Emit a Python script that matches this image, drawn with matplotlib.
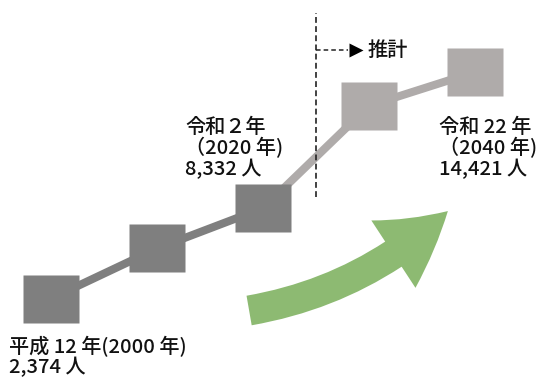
import numpy as np
import matplotlib.pyplot as plt
from matplotlib.patches import FancyArrowPatch
from matplotlib.path import Path

plt.rcParams['font.family'] = ['Noto Sans CJK JP', 'DejaVu Sans']

# 年次と人数（2010年・2030年は目盛り読み取りの推定値）
years = [2000, 2010, 2020, 2030, 2040]
people = [2374, 6070, 8332, 13050, 14421]

# ラベルを付ける点と年号
label_idx = [0, 2, 4]
era_text = ['平成 12 年(2000 年)', '令和２年\n（2020 年)', '令和 22 年\n（2040 年)']
label_off = [(-42, -37), (-78, 90), (-36, -46)]

proj_start = 2025  # ここから右が推計

dark = '#7f7f7f'
light = '#afabaa'
green = '#8dba72'

fig = plt.figure(figsize=(5.38, 3.78), dpi=100)
ax = fig.add_axes([51.2 / 538, 1 - 298.5 / 378, 423.8 / 538, 226.5 / 378])
ax.set_yscale('function', functions=(lambda v: np.power(np.abs(v), 1.5),
                                     lambda v: np.power(np.abs(v), 1 / 1.5)))
ax.set_xlim(years[0], years[-1])
ax.set_ylim(min(people), max(people))
ax.axis('off')

# 横長の四角マーカー
box = Path([(-0.5, -0.4375), (0.5, -0.4375), (0.5, 0.4375), (-0.5, 0.4375), (-0.5, -0.4375)],
           [Path.MOVETO, Path.LINETO, Path.LINETO, Path.LINETO, Path.CLOSEPOLY])

ax.plot(years[:3], people[:3], color=dark, lw=5.8, solid_capstyle='butt', clip_on=False, zorder=2)
ax.plot(years[2:], people[2:], color=light, lw=5.8, solid_capstyle='butt', clip_on=False, zorder=2)
ax.plot(years[:3], people[:3], ls='none', marker=box, ms=40.3, mfc=dark, mec='none',
        clip_on=False, zorder=3)
ax.plot(years[3:], people[3:], ls='none', marker=box, ms=40.3, mfc=light, mec='none',
        clip_on=False, zorder=3)

for i, era, off in zip(label_idx, era_text, label_off):
    txt = era + '\n' + f'{people[i]:,} 人'
    ax.annotate(txt, xy=(years[i], people[i]), xytext=off, textcoords='offset pixels',
                ha='left', va='top', fontsize=14.5, linespacing=1.0, color='#111111',
                fontweight='medium')

# 推計の区切り線と矢印
ax.axvline(proj_start, ymin=0.448, ymax=1.26, color='#222222', lw=1.2,
           ls=(0, (3.5, 2)), clip_on=False)
tr = ax.get_xaxis_transform()
ax.plot([proj_start, proj_start + 3.0], [1.097, 1.097], transform=tr, color='#222222',
        lw=1.1, ls=(0, (3, 2)), clip_on=False)
ax.plot([proj_start + 3.8], [1.097], transform=tr, marker='>', ms=10, color='black',
        mec='none', clip_on=False)
ax.text(proj_start + 4.9, 1.097, '推計', transform=tr, ha='left', va='center',
        fontsize=14.5, color='#111111', fontweight='medium')

# 増加を示す緑の矢印
arrow = FancyArrowPatch((0.467, -0.053), (0.936, 0.386), transform=ax.transAxes,
                        arrowstyle='simple,head_length=50,head_width=58,tail_width=21.6',
                        connectionstyle='arc3,rad=0.15', shrinkA=0, shrinkB=0,
                        color=green, lw=0, clip_on=False, zorder=1)
ax.add_patch(arrow)

fig.savefig('out.png', dpi=100)
